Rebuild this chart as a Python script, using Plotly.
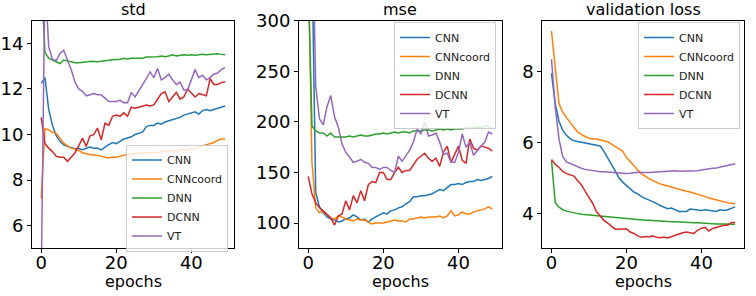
import plotly.graph_objects as go

epochs = list(range(50))
models = ["CNN", "CNNcoord", "DNN", "DCNN", "VT"]
colors = ["#1f77b4", "#ff7f0e", "#2ca02c", "#d62728", "#9467bd"]
panel_titles = ["std", "mse", "validation loss"]
x_ticks = [0, 20, 40]

# ---- std ----
CNN_std = [12.25, 12.5, 11.1, 10.4, 9.95, 9.7, 9.55, 9.47, 9.42, 9.38, 9.38, 9.33, 9.4, 9.45, 9.4, 9.4, 9.32, 9.45, 9.55, 9.65,
           9.6, 9.7, 9.8, 9.85, 9.9, 10.0, 10.05, 10.1, 10.35, 10.4, 10.4, 10.5, 10.45, 10.55, 10.6, 10.65, 10.7, 10.75, 10.85, 10.9,
           10.95, 11.0, 10.9, 11.05, 11.1, 11.05, 11.1, 11.15, 11.2, 11.25]
CNNcoord_std = [7.2, 10.25, 10.2, 10.1, 10.05, 9.85, 9.62, 9.5, 9.4, 9.35, 9.3, 9.2, 9.15, 9.12, 9.1, 9.08, 9.05, 9.0, 8.98, 9.0,
                9.0, 9.05, 9.1, 9.12, 9.15, 9.15, 9.2, 9.15, 9.2, 9.2, 9.22, 9.2, 9.25, 9.25, 9.3, 9.3, 9.28, 9.32, 9.35, 9.3,
                9.4, 9.35, 9.45, 9.5, 9.55, 9.6, 9.65, 9.75, 9.8, 9.8]
DNN_std = [17.1, 13.6, 13.35, 13.28, 13.2, 13.12, 13.27, 13.22, 13.17, 13.15, 13.15, 13.15, 13.18, 13.22, 13.2, 13.2, 13.22, 13.25, 13.25, 13.28,
           13.3, 13.3, 13.35, 13.32, 13.35, 13.35, 13.38, 13.35, 13.4, 13.4, 13.42, 13.42, 13.45, 13.42, 13.45, 13.5, 13.45, 13.48, 13.5, 13.48,
           13.5, 13.48, 13.5, 13.52, 13.5, 13.52, 13.52, 13.55, 13.52, 13.5]
DCNN_std = [10.75, 9.6, 9.4, 9.25, 9.05, 9.0, 9.0, 8.82, 9.0, 9.2, 9.5, 9.84, 9.47, 9.94, 9.99, 10.28, 9.77, 10.5, 10.4, 10.8,
            10.85, 10.8, 10.95, 10.8, 11.2, 11.15, 11.2, 11.25, 11.3, 11.25, 11.3, 11.55, 11.8, 11.88, 11.45, 11.65, 11.85, 11.55, 11.65, 12.0,
            11.8, 11.65, 11.8, 11.75, 11.7, 12.45, 12.2, 12.2, 12.28, 12.32]
VT_std = [3.5, 17.0, 13.85, 13.3, 13.25, 13.55, 13.7, 13.25, 12.85, 12.3, 12.0, 11.9, 11.7, 11.75, 11.8, 11.75, 11.75, 11.6, 11.45, 11.45,
          11.45, 11.5, 11.4, 11.4, 11.85, 11.65, 11.9, 12.15, 12.45, 12.75, 12.5, 12.9, 12.4, 12.5, 12.65, 12.4, 12.2, 12.3, 11.95, 11.95,
          12.45, 12.85, 12.5, 12.6, 12.4, 12.5, 12.65, 12.7, 12.85, 12.95]

# ---- mse ----
CNN_mse = [600, 342, 130, 116, 110, 106, 104, 103, 101, 102, 104, 105, 108, 106, 103, 104, 101, 104, 106, 108,
           110, 109, 112, 113, 115, 116, 119, 121, 126, 126, 127, 127, 128, 129, 131, 133, 132, 135, 138, 138,
           139, 138, 140, 141, 141, 143, 142, 143, 144, 146]
CNNcoord_mse = [360, 160, 115, 110, 112, 108, 105, 104, 107, 106, 104, 103, 102, 104, 103, 103, 101, 99, 100, 100,
                100, 101, 102, 103, 102, 102, 101, 104, 104, 105, 106, 105, 106, 106, 106, 107, 105, 107, 112, 107,
                108, 111, 109, 109, 111, 112, 113, 114, 116, 114]
DNN_mse = [345, 196, 191, 189, 189, 186, 189, 185, 185, 185, 185, 186, 185, 186, 187, 186, 186, 187, 188, 188,
           189, 188, 189, 190, 189, 190, 190, 189, 191, 191, 191, 192, 192, 191, 192, 193, 192, 193, 192, 193,
           193, 193, 194, 194, 194, 195, 194, 196, 195, 193]
DCNN_mse = [146, 129, 120, 115, 112, 108, 105, 98, 107, 109, 122, 113, 127, 120, 132, 122, 138, 141, 140, 150,
            150, 143, 143, 150, 155, 150, 152, 152, 158, 163, 166, 169, 164, 161, 164, 156, 170, 176, 160, 168,
            176, 162, 159, 183, 174, 172, 176, 175, 174, 171]
VT_mse = [700, 420, 235, 203, 197, 215, 226, 205, 195, 178, 170, 165, 160, 161, 163, 160, 159, 155, 155, 153,
          155, 155, 152, 150, 166, 161, 166, 172, 180, 193, 188, 200, 186, 187, 189, 180, 168, 169, 160, 160,
          170, 188, 175, 180, 167, 172, 176, 180, 190, 188]

# ---- validation loss ----
CNN_val = [7.95, 7.1, 6.6, 6.35, 6.2, 6.1, 6.05, 6.03, 6.0, 5.98, 5.95, 5.93, 5.92, 5.9, 5.75, 5.55, 5.38, 5.2, 5.0, 4.88,
           4.78, 4.68, 4.6, 4.55, 4.47, 4.42, 4.38, 4.33, 4.28, 4.22, 4.18, 4.13, 4.15, 4.1, 4.05, 4.05, 4.05, 4.12, 4.1, 4.1,
           4.08, 4.1, 4.08, 4.08, 4.05, 4.1, 4.08, 4.1, 4.13, 4.18]
CNNcoord_val = [9.15, 8.1, 7.1, 6.85, 6.7, 6.55, 6.42, 6.3, 6.22, 6.17, 6.12, 6.1, 6.1, 6.07, 6.05, 6.02, 5.95, 5.88, 5.83, 5.75,
                5.58, 5.45, 5.33, 5.22, 5.12, 5.04, 4.98, 4.92, 4.87, 4.83, 4.8, 4.77, 4.73, 4.7, 4.67, 4.63, 4.62, 4.6, 4.57, 4.55,
                4.5, 4.47, 4.43, 4.4, 4.38, 4.35, 4.32, 4.3, 4.28, 4.27]
DNN_val = [5.5, 4.3, 4.17, 4.1, 4.06, 4.03, 4.01, 3.99, 3.97, 3.96, 3.94, 3.93, 3.92, 3.9, 3.89, 3.88, 3.87, 3.86, 3.85, 3.85,
           3.84, 3.83, 3.82, 3.82, 3.81, 3.8, 3.8, 3.79, 3.78, 3.78, 3.77, 3.77, 3.76, 3.76, 3.75, 3.75, 3.74, 3.74, 3.73, 3.73,
           3.72, 3.72, 3.71, 3.71, 3.7, 3.7, 3.7, 3.69, 3.69, 3.69]
DCNN_val = [5.52, 5.38, 5.3, 5.18, 5.12, 5.08, 5.05, 4.92, 4.8, 4.62, 4.45, 4.28, 4.05, 3.92, 3.8, 3.72, 3.63, 3.55, 3.55, 3.55,
            3.56, 3.47, 3.43, 3.36, 3.32, 3.34, 3.33, 3.36, 3.32, 3.31, 3.33, 3.3, 3.34, 3.38, 3.42, 3.45, 3.47, 3.46, 3.43, 3.52,
            3.58, 3.6, 3.5, 3.57, 3.6, 3.64, 3.66, 3.66, 3.74, 3.74]
VT_val = [8.35, 7.0, 6.1, 5.6, 5.45, 5.4, 5.35, 5.3, 5.27, 5.24, 5.22, 5.2, 5.18, 5.17, 5.17, 5.16, 5.15, 5.14, 5.13, 5.13,
          5.12, 5.13, 5.15, 5.16, 5.15, 5.14, 5.15, 5.16, 5.17, 5.17, 5.18, 5.18, 5.19, 5.2, 5.19, 5.19, 5.2, 5.2, 5.2, 5.2,
          5.22, 5.24, 5.27, 5.27, 5.28, 5.3, 5.33, 5.36, 5.38, 5.4]

panels = [
    [CNN_std, CNNcoord_std, DNN_std, DCNN_std, VT_std],
    [CNN_mse, CNNcoord_mse, DNN_mse, DCNN_mse, VT_mse],
    [CNN_val, CNNcoord_val, DNN_val, DCNN_val, VT_val],
]
y_ranges = [[5, 15], [75, 300], [3.01, 9.44]]
y_ticks = [[6, 8, 10, 12, 14], [100, 150, 200, 250, 300], [4, 6, 8]]

W, H = 756, 296
x_domains = [[32 / W, 234.3 / W], [299 / W, 501.5 / W], [542.3 / W, 744.3 / W]]
y_domain = [1 - 248.3 / H, 1 - 20.7 / H]
legend_pos = [(126 / W, 1 - 198 / H, "middle"), (394 / W, 1 - 22 / H, "top"), (638 / W, 1 - 22 / H, "top")]

FONT = "DejaVu Sans"
fig = go.Figure()
layout = dict(
    width=W, height=H, margin=dict(l=0, r=0, t=0, b=0, autoexpand=False),
    paper_bgcolor="white", plot_bgcolor="white",
    font=dict(family=FONT, color="black"),
    annotations=[],
)

for p in range(3):
    suffix = "" if p == 0 else str(p + 1)
    legname = "legend" if p == 0 else f"legend{p + 1}"
    for name, color, ys in zip(models, colors, panels[p]):
        fig.add_trace(go.Scatter(
            x=epochs, y=ys, mode="lines", name=name,
            line=dict(color=color, width=1.5),
            xaxis="x" + suffix, yaxis="y" + suffix,
            legend=legname, showlegend=True,
        ))
    axis_common = dict(
        showline=True, mirror=True, linecolor="black", linewidth=1,
        ticks="outside", ticklen=4, tickwidth=1, tickcolor="black",
        showgrid=False, zeroline=False, automargin=False,
        tickfont=dict(family=FONT, size=18, color="black"),
    )
    layout["xaxis" + suffix] = dict(
        domain=x_domains[p], range=[-2.45, 51.45], tickmode="array",
        tickvals=x_ticks, anchor="y" + suffix, ticklabelstandoff=-6, **axis_common)
    layout["yaxis" + suffix] = dict(
        domain=y_domain, range=y_ranges[p], tickmode="array",
        tickvals=y_ticks[p], anchor="x" + suffix, **axis_common)
    layout[legname] = dict(
        x=legend_pos[p][0], y=legend_pos[p][1], xanchor="left", yanchor=legend_pos[p][2],
        xref="paper", yref="paper",
        bgcolor="rgba(255,255,255,0.8)", bordercolor="#cccccc", borderwidth=1,
        font=dict(family=FONT, size=11, color="#222222"),
        itemwidth=30, tracegroupgap=0,
    )
    xc = (x_domains[p][0] + x_domains[p][1]) / 2
    layout["annotations"].append(dict(
        text=panel_titles[p], x=xc, y=y_domain[1], xref="paper", yref="paper",
        xanchor="center", yanchor="bottom", yshift=0, showarrow=False,
        font=dict(family=FONT, size=16, color="black")))
    layout["annotations"].append(dict(
        text="epochs", x=xc, y=1 - 270 / H, xref="paper", yref="paper",
        xanchor="center", yanchor="top", showarrow=False,
        font=dict(family=FONT, size=16, color="black")))

fig.update_layout(**layout)
fig.write_html("out.html", config={"displayModeBar": False},
               post_script="document.body.style.margin='0px';")
